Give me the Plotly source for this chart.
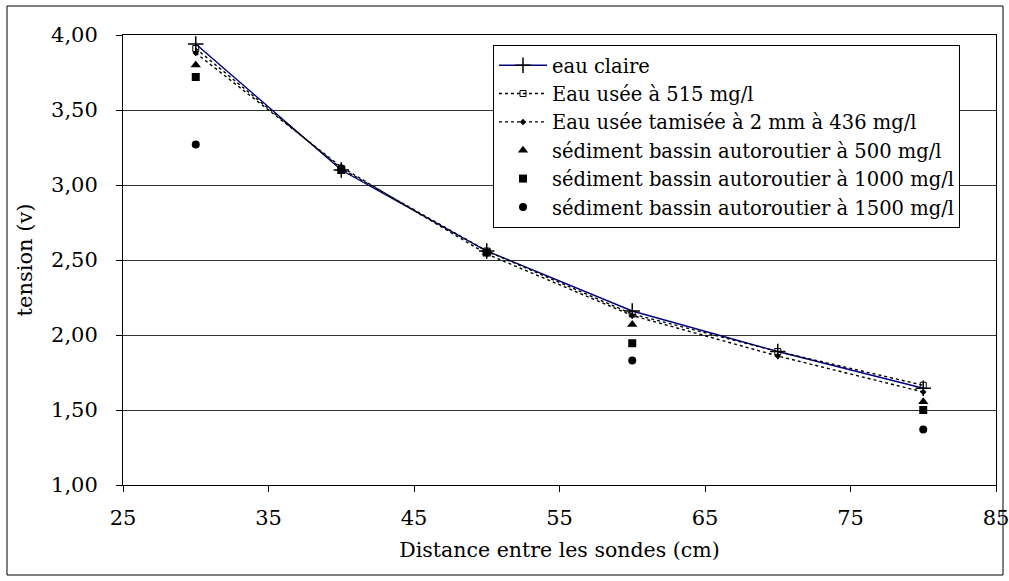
import plotly.graph_objects as go

x_all = [30, 40, 50, 60, 70, 80]
eau_claire = [3.94, 3.10, 2.56, 2.16, 1.89, 1.645]
eau_usee_515 = [3.91, 3.11, 2.56, 2.14, 1.89, 1.665]
eau_tamisee_436 = [3.88, 3.12, 2.54, 2.13, 1.86, 1.62]

x_sed = [30, 40, 50, 60, 80]
sed_500 = [3.80, 3.11, 2.55, 2.07, 1.555]
sed_1000 = [3.72, 3.10, 2.55, 1.945, 1.50]
sed_1500 = [3.27, 3.11, 2.55, 1.83, 1.37]

font = "DejaVu Serif"

fig = go.Figure()
fig.add_trace(go.Scatter(x=x_all, y=eau_claire, name="eau claire", mode="lines+markers",
                         line=dict(color="#000080", width=1.4),
                         marker=dict(symbol="cross-thin", size=11, color="black",
                                     line=dict(color="black", width=1.5))))
fig.add_trace(go.Scatter(x=x_all, y=eau_usee_515, name="Eau usée à 515 mg/l", mode="lines+markers",
                         line=dict(color="black", width=1.4, dash="dot"),
                         marker=dict(symbol="square-open", size=6, color="black",
                                     line=dict(color="black", width=1))))
fig.add_trace(go.Scatter(x=x_all, y=eau_tamisee_436, name="Eau usée tamisée à 2 mm à 436 mg/l", mode="lines+markers",
                         line=dict(color="black", width=1.4, dash="dot"),
                         marker=dict(symbol="diamond", size=5, color="black")))
fig.add_trace(go.Scatter(x=x_sed, y=sed_500, name="sédiment bassin autoroutier à 500 mg/l", mode="markers",
                         marker=dict(symbol="triangle-up", size=9, color="black")))
fig.add_trace(go.Scatter(x=x_sed, y=sed_1000, name="sédiment bassin autoroutier à 1000 mg/l", mode="markers",
                         marker=dict(symbol="square", size=8, color="black")))
fig.add_trace(go.Scatter(x=x_sed, y=sed_1500, name="sédiment bassin autoroutier à 1500 mg/l", mode="markers",
                         marker=dict(symbol="circle", size=8, color="black")))

L, R, T, B = 123, 13, 35, 96
W, H = 1009, 581
pw, ph = W - L - R, H - T - B

fig.update_layout(
    width=W, height=H,
    margin=dict(l=L, r=R, t=T, b=B, autoexpand=False),
    paper_bgcolor="white", plot_bgcolor="white",
    separators=", ",
    font=dict(family=font, size=18, color="black"),
    showlegend=True,
    legend=dict(x=(493 - L) / pw, y=(H - B - 45) / ph, xanchor="left", yanchor="top",
                bgcolor="white", bordercolor="black", borderwidth=1,
                font=dict(family=font, size=19.5), tracegroupgap=0, itemwidth=48),
    xaxis=dict(range=[25, 85], tick0=25, dtick=10, showgrid=False, zeroline=False,
               showline=True, linecolor="black", linewidth=1, mirror=True,
               ticks="outside", ticklen=6, tickcolor="black", ticklabelstandoff=8,
               ticklabeloverflow="allow", automargin=False,
               title=dict(text="Distance entre les sondes (cm)", font=dict(family=font, size=20.5), standoff=13),
               tickfont=dict(family=font, size=21)),
    yaxis=dict(range=[1, 4], tick0=1, dtick=0.5, tickformat=".2f", showgrid=True,
               gridcolor="#333333", gridwidth=1, zeroline=False,
               showline=True, linecolor="black", linewidth=1, mirror=True,
               ticks="outside", ticklen=6, tickcolor="black", ticklabelstandoff=14,
               automargin=False,
               title=dict(text="tension (v)", font=dict(family=font, size=21), standoff=12),
               tickfont=dict(family=font, size=21)),
    shapes=[dict(type="rect", xref="paper", yref="paper",
                 x0=(7 - L) / pw, x1=(1003 - L) / pw,
                 y0=(H - B - 575) / ph, y1=(H - B - 6) / ph,
                 line=dict(color="black", width=1), fillcolor="rgba(0,0,0,0)", layer="below")],
)

fig.write_html("out.html", config={"displayModeBar": False},
               post_script="document.body.style.margin='0';document.body.style.overflow='hidden';")
